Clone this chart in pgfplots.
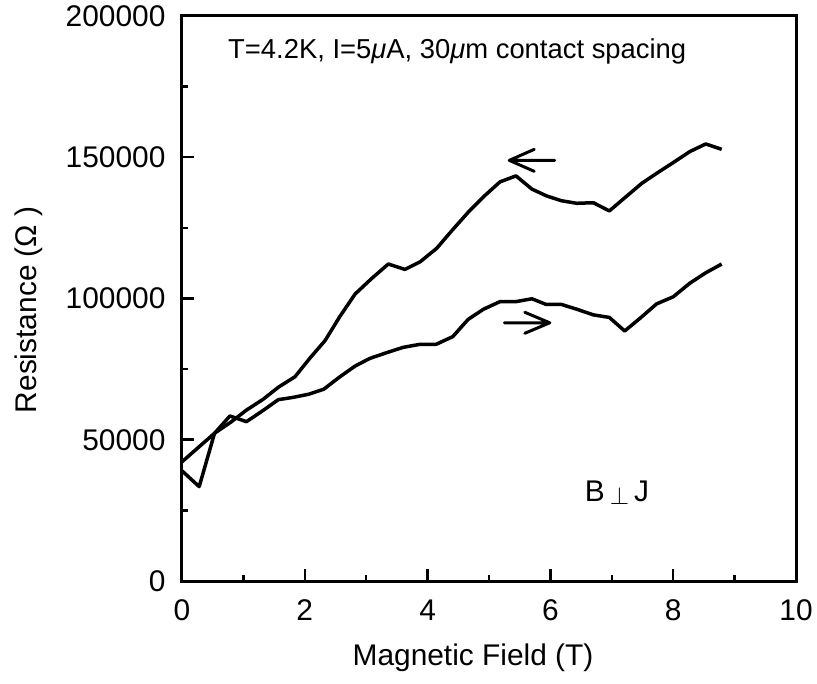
\documentclass[border=0pt]{standalone}
\usepackage{fontspec}
\setmainfont{Liberation Sans}
\usepackage{pgfplots}
\pgfplotsset{compat=1.18}
\begin{document}
\begin{tikzpicture}
\begin{axis}[
  scale only axis, width=614bp, height=565bp,
  xmin=0, xmax=10, ymin=0, ymax=200000,
  xtick={0,2,...,10}, ytick={0,50000,...,200000},
  minor x tick num=1, minor y tick num=1,
  xtick pos=bottom, ytick pos=left,
  tick align=inside,
  major tick length=12bp, minor tick length=6bp,
  every tick/.style={black, line width=2.5bp},
  axis line style={line width=3bp},
  scaled y ticks=false,
  yticklabel style={/pgf/number format/fixed,/pgf/number format/1000 sep={}},
  /pgf/number format/assume math mode=true,
  ticklabel style={font=\fontsize{30}{36}\selectfont},
  xticklabel style={yshift=-15bp},
  yticklabel style={xshift=-13bp},
  xlabel={Magnetic Field (T)}, ylabel={Resistance (Ω )},
  every axis x label/.style={at={(axis description cs:0.474,-0.135)}, anchor=center, font=\fontsize{30}{36}\selectfont},
  every axis y label/.style={at={(axis description cs:-0.25,0.48)}, rotate=90, anchor=center, font=\fontsize{30}{36}\selectfont},
  clip=false,
]
\addplot[black, line width=3.5bp, line join=round] coordinates {
(0,42200) (0.53,52300) (0.80,56300) (1.05,60500) (1.32,64300) (1.57,68600)
(1.84,72300) (2.08,78800) (2.33,85100) (2.57,93600) (2.82,101600) (3.09,107100)
(3.36,112200) (3.63,110300) (3.88,113000) (4.15,117800) (4.39,123900) (4.66,130500)
(4.91,136000) (5.18,141300) (5.44,143400) (5.70,138700) (5.94,136300) (6.18,134600)
(6.43,133700) (6.70,133900) (6.96,131000) (7.23,136000) (7.49,140800) (7.73,144300)
(8.00,148100) (8.27,152000) (8.53,154700) (8.79,152800)
};
\addplot[black, line width=3.5bp, line join=round] coordinates {
(0,39000) (0.28,33400) (0.53,52300) (0.78,58400) (1.05,56400) (1.31,60200)
(1.57,64200) (1.81,65000) (2.06,66100) (2.31,67900) (2.56,72100) (2.82,76100)
(3.06,78800) (3.33,80800) (3.60,82700) (3.88,83800) (4.14,83800) (4.41,86500)
(4.66,92600) (4.91,96200) (5.18,98900) (5.44,98900) (5.70,99900) (5.93,97900)
(6.18,97900) (6.43,96200) (6.70,94200) (6.96,93300) (7.21,88500) (7.46,93000)
(7.73,98100) (8.00,100600) (8.27,105400) (8.53,109100) (8.79,112200)
};
% arrows
\draw[black, line width=3bp, line cap=round, line join=round]
  (axis cs:6.07,148900) -- (axis cs:5.33,148900)
  (axis cs:5.33,148900) -- ++(25bp,11bp)
  (axis cs:5.33,148900) -- ++(25bp,-11bp);
\draw[black, line width=3bp, line cap=round, line join=round]
  (axis cs:5.25,91400) -- (axis cs:5.99,91400)
  (axis cs:5.99,91400) -- ++(-25bp,10.5bp)
  (axis cs:5.99,91400) -- ++(-25bp,-10.5bp);
\node[anchor=base west, inner sep=0pt, font=\fontsize{27.5}{33}\selectfont]
  at (axis cs:0.75,185000) {T=4.2K, I=5{\itshape μ}A, 30{\itshape μ}m contact spacing};
\node[anchor=base west, inner sep=0pt, font=\fontsize{30}{36}\selectfont]
  at (axis cs:6.56,28000) {B\,\raisebox{-3bp}{$\perp$}\,J};
\end{axis}
\pgfresetboundingbox
\path[use as bounding box] ([shift={(-182bp,-103bp)}]current axis.south west) rectangle ([shift={(21bp,16bp)}]current axis.north east);
\end{tikzpicture}
\end{document}
